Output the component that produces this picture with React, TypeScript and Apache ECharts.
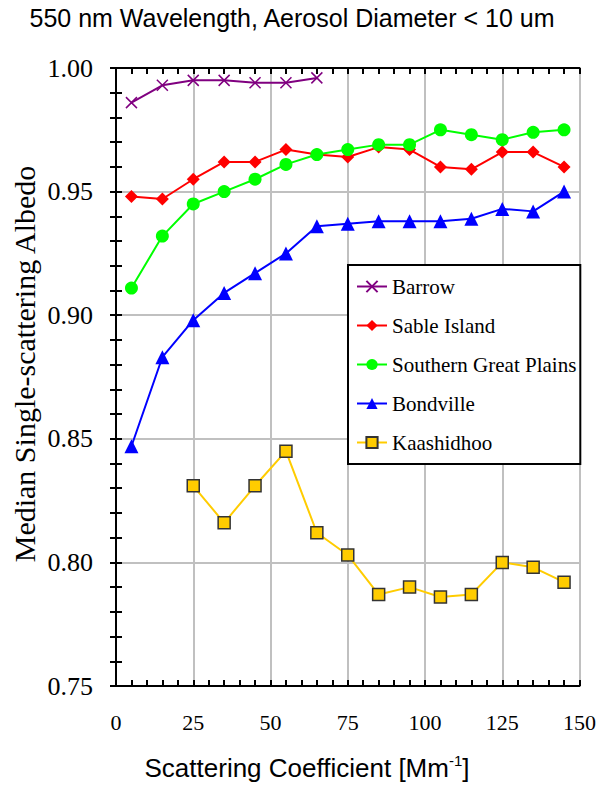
import React, { useEffect, useRef } from "react";
import * as echarts from "echarts";

const scattering = [5, 15, 25, 35, 45, 55, 65, 75, 85, 95, 105, 115, 125, 135, 145];
const barrow = [0.986, 0.993, 0.995, 0.995, 0.994, 0.994, 0.996, null, null, null, null, null, null, null, null];
const sableIsland = [0.948, 0.947, 0.955, 0.962, 0.962, 0.967, 0.965, 0.964, 0.968, 0.967, 0.96, 0.959, 0.966, 0.966, 0.96];
const southernGreatPlains = [0.911, 0.932, 0.945, 0.95, 0.955, 0.961, 0.965, 0.967, 0.969, 0.969, 0.975, 0.973, 0.971, 0.974, 0.975];
const bondville = [0.847, 0.883, 0.898, 0.909, 0.917, 0.925, 0.936, 0.937, 0.938, 0.938, 0.938, 0.939, 0.943, 0.942, 0.95];
const kaashidhoo = [null, null, 0.831, 0.816, 0.831, 0.845, 0.812, 0.803, 0.787, 0.79, 0.786, 0.787, 0.8, 0.798, 0.792];

const titleText = "550 nm Wavelength, Aerosol Diameter < 10 um";
const yTitle = "Median Single-scattering Albedo";

const SERIF = "Liberation Serif";
const SANS = "Liberation Sans";

const pairs = (ys: (number | null)[]) => scattering.map((x, i) => [x, ys[i]]);

export default function App() {
  const ref = useRef<HTMLDivElement>(null);
  useEffect(() => {
    if (!ref.current) return;
    const chart = echarts.init(ref.current, null, { renderer: "svg" });
    const axisCommon = {
      axisLine: { show: true, lineStyle: { color: "#000", width: 2 } },
      axisTick: { show: true, inside: true, length: 6, lineStyle: { color: "#000", width: 2 } },
      minorTick: { show: true, splitNumber: 5, length: 6, lineStyle: { color: "#000", width: 2 } },
    };
    const cross = "path://M0,0L10,10M10,0L0,10";
    const mk = (name: string, ys: (number | null)[], color: string, symbol: string, size: number, extra: any = {}) => ({
      name,
      type: "line",
      data: pairs(ys),
      symbol,
      symbolSize: size,
      lineStyle: { color, width: 2 },
      itemStyle: { color, ...extra },
      z: 2,
    });
    chart.setOption({
      animation: false,
      backgroundColor: "#fff",
      textStyle: { fontFamily: SERIF },
      grid: { left: 116, right: 19, top: 68, bottom: 100 },
      xAxis: [
        {
          type: "value",
          min: 0,
          max: 150,
          interval: 25,
          position: "bottom",
          ...axisCommon,
          axisLabel: { margin: 25, fontFamily: SERIF, fontSize: 22, color: "#000" },
          splitLine: { show: true, lineStyle: { color: "#c0c0c0", width: 2 } },
        },
        {
          type: "value",
          min: 0,
          max: 150,
          interval: 25,
          position: "top",
          ...axisCommon,
          axisLabel: { show: false },
          splitLine: { show: false },
        },
      ],
      yAxis: [
        {
          type: "value",
          min: 0.75,
          max: 1.0,
          interval: 0.05,
          position: "left",
          ...axisCommon,
          axisLabel: {
            margin: 23,
            fontFamily: SERIF,
            fontSize: 26,
            color: "#000",
            formatter: (v: number) => v.toFixed(2),
          },
          splitLine: { show: true, lineStyle: { color: "#c0c0c0", width: 2 } },
        },
        {
          type: "value",
          min: 0.75,
          max: 1.0,
          interval: 0.05,
          position: "right",
          ...axisCommon,
          axisLabel: { show: false },
          splitLine: { show: false },
        },
      ],
      legend: {
        orient: "vertical",
        left: 348,
        top: 265,
        padding: [11, 4, 11, 8],
        itemWidth: 30,
        itemHeight: 14,
        itemGap: 18,
        backgroundColor: "#fff",
        borderColor: "#000",
        borderWidth: 2,
        borderRadius: 0,
        textStyle: { fontFamily: SERIF, fontSize: 21, color: "#000" },
        data: ["Barrow", "Sable Island", "Southern Great Plains", "Bondville", "Kaashidhoo"],
      },
      series: [
        mk("Barrow", barrow, "#800080", cross, 11, { borderColor: "#800080", borderWidth: 1.5 }),
        mk("Sable Island", sableIsland, "#ff0000", "diamond", 13),
        mk("Southern Great Plains", southernGreatPlains, "#00ff00", "circle", 13),
        mk("Bondville", bondville, "#0000ff", "triangle", 14),
        mk("Kaashidhoo", kaashidhoo, "#ffcc00", "rect", 12, { borderColor: "#333", borderWidth: 1.5 }),
      ],
      graphic: [
        {
          type: "text",
          x: 292,
          y: 18,
          style: {
            text: titleText,
            fontFamily: SANS,
            fontSize: 25,
            fill: "#000",
            align: "center",
            verticalAlign: "middle",
          },
        },
        {
          type: "text",
          x: 24,
          y: 364,
          rotation: Math.PI / 2,
          style: {
            text: yTitle,
            fontFamily: SERIF,
            fontSize: 30,
            fill: "#000",
            align: "center",
            verticalAlign: "middle",
          },
        },
        {
          type: "text",
          x: 307,
          y: 768,
          style: {
            text: "{m|Scattering Coefficient [Mm}{s|-1}{m|]}",
            align: "center",
            verticalAlign: "middle",
            rich: {
              m: { fontFamily: SANS, fontSize: 26, color: "#000", lineHeight: 30 },
              s: { fontFamily: SANS, fontSize: 15, color: "#000", verticalAlign: "top", lineHeight: 30, padding: [0, 0, 14, 0] },
            },
          },
        },
      ],
    });
    return () => chart.dispose();
  }, []);
  return <div ref={ref} style={{ width: 599, height: 786, position: "absolute", left: 0, top: 0 }} />;
}
